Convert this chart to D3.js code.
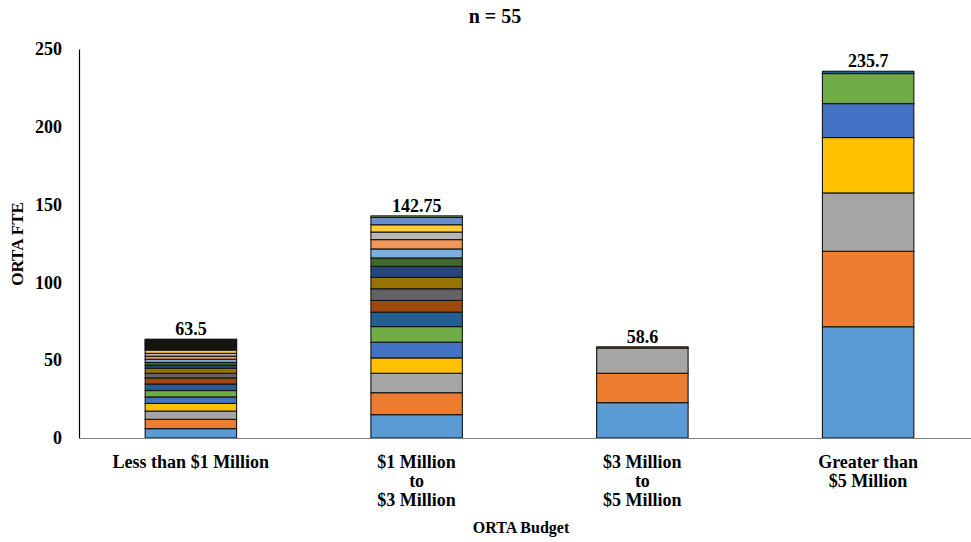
<!DOCTYPE html>
<html>
<head>
<meta charset="utf-8">
<script src="https://cdn.jsdelivr.net/npm/d3@7"></script>
<style>
  html, body { margin: 0; padding: 0; background: #fff; }
</style>
</head>
<body>
<svg id="chart" width="971" height="542"></svg>
<script>
// Budget categories (x axis); multi-line labels split on "|"
const categories = ["Less than $1 Million", "$1 Million|to|$3 Million", "$3 Million|to|$5 Million", "Greater than|$5 Million"];

// FTE per responding ORTA within each budget group, stacked bottom to top
const lessThan1M = [6.0, 6.0, 5.3, 4.9, 4.2, 4.1, 4.2, 3.9, 3.0, 3.2, 2.0, 1.8, 2.0, 2.0, 1.8, 2.1,
                    0.7, 0.7, 0.7, 0.7, 0.7, 0.7, 0.7, 0.7, 0.7, 0.7];
const oneTo3M = [15.0, 14.1, 12.5, 9.9, 10.1, 10.0, 9.3, 7.5, 7.5, 7.3, 7.1, 5.4, 5.8, 6.0, 4.85, 4.7, 4.7, 1.0];
const threeTo5M = [22.7, 18.9, 16.2, 0.8];
const greaterThan5M = [71.5, 48.5, 37.5, 35.6, 21.8, 19.3, 1.5];

// Group totals shown above each bar
const totals = [63.5, 142.75, 58.6, 235.7];
const totalLabels = ["63.5", "142.75", "58.6", "235.7"];

const yTicks = [0, 50, 100, 150, 200, 250];

// Series colours, in series order
const palette = ["#5B9BD5", "#ED7D31", "#A5A5A5", "#FFC000", "#4472C4", "#70AD47", "#255E91", "#9E480E",
                 "#636363", "#997300", "#264478", "#43682B", "#7CAFDD", "#F1975A", "#B7B7B7", "#FFCD33",
                 "#698ED0", "#8CC168", "#327DC2", "#D26012", "#848484", "#CC9A00", "#335AA1", "#5A8A39",
                 "#1F4E79", "#843C0C"];

const FONT = "'Liberation Serif', 'Times New Roman', 'DejaVu Serif', serif";

const groups = [lessThan1M, oneTo3M, threeTo5M, greaterThan5M];
const nSeries = d3.max(groups, g => g.length);
const keys = d3.range(nSeries);

// One row per category, one column per series (missing series = 0)
const table = categories.map((c, i) => {
  const row = { category: c };
  keys.forEach(k => { row[k] = groups[i][k] || 0; });
  return row;
});
const series = d3.stack().keys(keys)(table);

const svg = d3.select("#chart");
const x0 = 78, x1 = 981, yBase = 438, yTop = 49;

const x = d3.scaleBand().domain(categories).range([x0, x1]).paddingInner(0.595).paddingOuter(0.2975);
const y = d3.scaleLinear().domain([0, 250]).range([yBase, yTop]);

function label(sel, size) {
  return sel.attr("font-family", FONT).attr("font-weight", "bold").attr("font-size", size).attr("fill", "#000");
}

// Title
label(svg.append("text"), 20).attr("x", 495).attr("y", 23).attr("text-anchor", "middle").text("n = 55");

// Stacked segments
const layer = svg.append("g");
series.forEach((s, k) => {
  layer.append("g").attr("fill", palette[k % palette.length])
    .selectAll("rect")
    .data(s.filter(d => d[1] - d[0] > 0))
    .join("rect")
    .attr("x", d => x(d.data.category))
    .attr("width", x.bandwidth())
    .attr("y", d => y(d[1]))
    .attr("height", d => y(d[0]) - y(d[1]))
    .attr("stroke", "#141414")
    .attr("stroke-width", 1.1);
});

// Y axis
const yAxis = d3.axisLeft(y).tickValues(yTicks).tickSize(0).tickPadding(17);
const gy = svg.append("g").attr("transform", `translate(${x0 + 1},0)`).call(yAxis);
gy.select(".domain").attr("stroke", "#000").attr("stroke-width", 1.2);
label(gy.selectAll("text"), 18);

// X axis baseline
svg.append("line").attr("x1", x0 + 1).attr("x2", 971).attr("y1", yBase + 0.5).attr("y2", yBase + 0.5)
  .attr("stroke", "#7f7f7f").attr("stroke-width", 1.2);

// Category labels
categories.forEach(c => {
  const t = label(svg.append("text"), 18).attr("text-anchor", "middle");
  c.split("|").forEach((line, i) => {
    t.append("tspan").attr("x", x(c) + x.bandwidth() / 2).attr("y", 468 + i * 19).text(line);
  });
});

// Totals above bars
categories.forEach((c, i) => {
  label(svg.append("text"), 18).attr("x", x(c) + x.bandwidth() / 2).attr("y", y(totals[i]) - 4)
    .attr("text-anchor", "middle").text(totalLabels[i]);
});

// Axis titles
label(svg.append("text"), 16).attr("x", 521).attr("y", 533).attr("text-anchor", "middle").text("ORTA Budget");
label(svg.append("text"), 17).attr("transform", "translate(23,244) rotate(-90)").attr("text-anchor", "middle").text("ORTA FTE");
</script>
</body>
</html>
